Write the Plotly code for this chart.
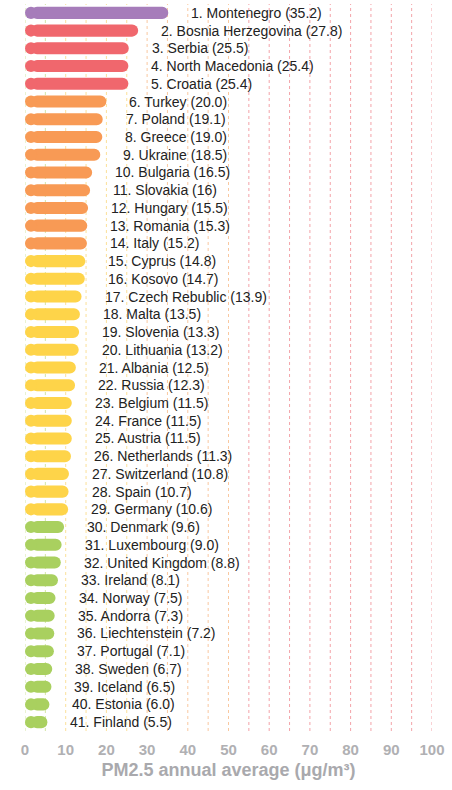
import plotly.graph_objects as go

# PM2.5 annual averages by country (µg/m³), ranked
countries = [
    "Montenegro", "Bosnia Herzegovina", "Serbia", "North Macedonia", "Croatia",
    "Turkey", "Poland", "Greece", "Ukraine", "Bulgaria", "Slovakia", "Hungary",
    "Romania", "Italy", "Cyprus", "Kosovo", "Czech Rebublic", "Malta", "Slovenia",
    "Lithuania", "Albania", "Russia", "Belgium", "France", "Austria", "Netherlands",
    "Switzerland", "Spain", "Germany", "Denmark", "Luxembourg", "United Kingdom",
    "Ireland", "Norway", "Andorra", "Liechtenstein", "Portugal", "Sweden",
    "Iceland", "Estonia", "Finland",
]
values = [
    35.2, 27.8, 25.5, 25.4, 25.4, 20.0, 19.1, 19.0, 18.5, 16.5, 16, 15.5, 15.3,
    15.2, 14.8, 14.7, 13.9, 13.5, 13.3, 13.2, 12.5, 12.3, 11.5, 11.5, 11.5, 11.3,
    10.8, 10.7, 10.6, 9.6, 9.0, 8.8, 8.1, 7.5, 7.3, 7.2, 7.1, 6.7, 6.5, 6.0, 5.5,
]
value_labels = [
    "35.2", "27.8", "25.5", "25.4", "25.4", "20.0", "19.1", "19.0", "18.5", "16.5",
    "16", "15.5", "15.3", "15.2", "14.8", "14.7", "13.9", "13.5", "13.3", "13.2",
    "12.5", "12.3", "11.5", "11.5", "11.5", "11.3", "10.8", "10.7", "10.6", "9.6",
    "9.0", "8.8", "8.1", "7.5", "7.3", "7.2", "7.1", "6.7", "6.5", "6.0", "5.5",
]
grid_values = list(range(0, 101, 5))
tick_values = list(range(0, 101, 10))

PURPLE, RED, ORANGE, YELLOW, GREEN = "#a67cba", "#f0676d", "#f89a55", "#fed449", "#a9d05f"

WIDTH, HEIGHT = 452, 790
MARGIN = dict(l=25, r=20, t=4, b=59)
X_MAX = 100
BAR_WIDTH = 0.68


def band_color(v):
    if v > 30:
        return PURPLE
    if v >= 25:
        return RED
    if v >= 15:
        return ORANGE
    if v >= 10:
        return YELLOW
    return GREEN


def grid_color(g):
    if g <= 5:
        return "#d3e5a4"
    if g <= 25:
        return "#fbe09a"
    if g <= 50:
        return "#f9c8a0"
    return "#f3a3a8"


colors = [band_color(v) for v in values]
ranks = list(range(1, len(countries) + 1))
n = len(countries)

# Bar thickness in px, and the matching cap radius in data units
px_per_unit = (WIDTH - MARGIN["l"] - MARGIN["r"]) / X_MAX
bar_px = BAR_WIDTH * (HEIGHT - MARGIN["t"] - MARGIN["b"]) / n
cap = (bar_px / 2) / px_per_unit

fig = go.Figure()
# Pill-shaped bars: a bar rounded at its value end, plus a round cap at the zero end.
fig.add_trace(go.Bar(
    y=countries,
    x=[v - cap for v in values],
    base=[cap] * n,
    orientation="h",
    width=BAR_WIDTH,
    marker=dict(color=colors, line_width=0, cornerradius="50%"),
    hoverinfo="skip",
    showlegend=False,
))
fig.add_trace(go.Scatter(
    y=countries,
    x=[cap] * n,
    mode="markers",
    marker=dict(symbol="circle", size=bar_px, color=colors, line_width=0),
    hoverinfo="skip",
    showlegend=False,
))

for g in grid_values:
    fig.add_shape(
        type="line", xref="x", yref="paper", x0=g, x1=g, y0=0, y1=1,
        line=dict(color=grid_color(g), width=1, dash="3px,3px"), layer="below",
    )

for r, c, v, lab in zip(ranks, countries, values, value_labels):
    fig.add_annotation(
        x=v, y=c, xref="x", yref="y", text=f"{r}. {c} ({lab})",
        showarrow=False, xanchor="left", yanchor="middle", xshift=21,
        font=dict(family="Liberation Sans, Arial, sans-serif", size=14, color="#222222"),
    )

fig.update_layout(
    width=WIDTH, height=HEIGHT,
    margin=MARGIN,
    paper_bgcolor="white", plot_bgcolor="white",
    barmode="overlay",
    xaxis=dict(
        range=[0, X_MAX], tickvals=tick_values, showgrid=False, zeroline=False,
        showline=False, ticks="", ticklabelstandoff=8,
        tickfont=dict(family="Liberation Sans, Arial, sans-serif",
                      size=15, color="#b0b0b3", weight="bold"),
        title=dict(
            text="PM2.5 annual average (μg/m³)", standoff=6,
            font=dict(family="Liberation Sans, Arial, sans-serif",
                      size=18, color="#a9a9ad", weight="bold"),
        ),
    ),
    yaxis=dict(
        type="category", categoryorder="array", categoryarray=countries,
        range=[n - 0.5, -0.5], showticklabels=False, showgrid=False,
        zeroline=False, showline=False, ticks="",
    ),
)

fig.write_html("out.html")
